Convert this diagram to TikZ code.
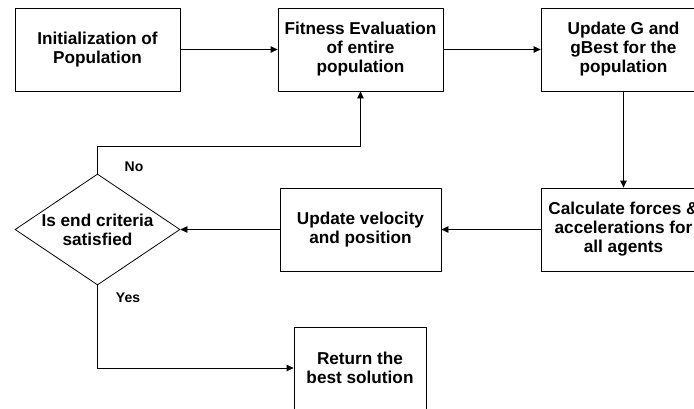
\documentclass[tikz,border=0pt]{standalone}
\usepackage{fontspec}
\setmainfont{Liberation Sans}
\usetikzlibrary{shapes, arrows.meta, positioning, calc}

\tikzset{
  stepbox/.style={draw, line width=0.8pt, minimum width=165pt, minimum height=83pt,
    inner sep=0pt, align=center, font=\fontsize{17.2}{19}\selectfont\bfseries},
  flow/.style={-{Triangle[length=7pt, width=6.5pt]}, line width=0.8pt},
  answer/.style={font=\fontsize{14}{16}\selectfont\bfseries}
}

\begin{document}
\begin{tikzpicture}[x=1pt, y=-1pt]

        \clip (0,0) rectangle (694,408);

        % ------------------ Top row ------------------

        \node[stepbox] (init) at (97.5,49.5) {Initialization of\\Population};
        \node[stepbox] (fitness) at (360.5,49.5) {Fitness Evaluation\\of entire\\population};
        \node[stepbox] (updg) at (623.5,49.5) {Update G and\\gBest for the\\population};

        % ------------------ Middle row ------------------

        \node[stepbox] (calc) at (623.5,229.5) {Calculate forces \&\\accelerations for\\all agents};
        \node[stepbox, minimum width=161pt] (velocity) at (360.5,229.5) {Update velocity\\and position};

        % Decision
        \node[diamond, draw, line width=0.8pt, minimum width=165pt, minimum height=111pt, inner sep=0pt] (check) at (97.5,229.5) {};
        \node[align=center, font=\fontsize{17.2}{19}\selectfont\bfseries] (checktext) at (check) {Is end criteria\\satisfied};

        % ------------------ Result ------------------

        \node[stepbox, minimum width=132pt, minimum height=82pt] (ret) at (360,368) {Return the\\best solution};

        % Labels
        \node[answer] (no) at (134,167) {No};
        \node[answer] (yes) at (128,298) {Yes};

        % Arrows
        \coordinate (nobend) at (97.5,146);
        \draw[flow] (init) -- (fitness);
        \draw[flow] (fitness) -- (updg);
        \draw[flow] (updg) -- (calc);
        \draw[flow] (calc) -- (velocity);
        \draw[flow] (velocity) -- (check.east);
        \draw[flow] (check.north) -- (nobend) -| (fitness.south);
        \draw[flow] (check.south) |- (ret.west);

    \end{tikzpicture}
\end{document}
